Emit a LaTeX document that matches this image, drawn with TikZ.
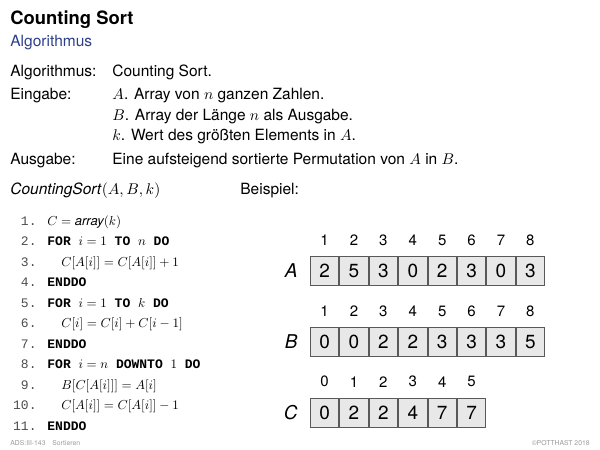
\documentclass[tikz,border=0pt]{standalone}
\usepackage[no-math]{fontspec}
\setmainfont{TeX Gyre Heros}
\setmonofont{Liberation Mono}
\usetikzlibrary{positioning}

% scale the math fonts freely
\DeclareFontShape{OML}{cmm}{m}{it}{<->cmmi10}{}
\DeclareFontShape{OT1}{cmr}{m}{n}{<->cmr10}{}
\DeclareFontShape{OMS}{cmsy}{m}{n}{<->cmsy10}{}

\definecolor{slideblue}{HTML}{2B3F8C}
\definecolor{cellgray}{HTML}{E8E8E8}

\begin{document}
\begin{tikzpicture}[
x=0.5pt, y=-0.5pt,
txt/.style={anchor=base west, inner sep=0, font=\fontsize{7.75}{9}\selectfont},
titletxt/.style={anchor=base west, inner sep=0, font=\fontsize{9.2}{11}\selectfont\bfseries},
linenum/.style={anchor=base east, inner sep=0, text=black!70, font=\fontsize{6.5}{8}\ttfamily},
code/.style={anchor=base west, inner sep=0, font=\fontsize{6.5}{8}\ttfamily},
cell/.style={rectangle, draw=black!65, fill=cellgray, line width=0.5pt, minimum width=14.2pt, minimum height=14.6pt, inner sep=0, font=\fontsize{9.5}{11}\selectfont},
idx/.style={inner sep=0, font=\fontsize{7.5}{9}\selectfont},
rowlabel/.style={inner sep=0, font=\fontsize{9.5}{11}\selectfont\itshape},
foot/.style={inner sep=0, text=black!40, font=\fontsize{3.4}{4}\selectfont}
]
\useasboundingbox (0,0) rectangle (600,450);

% heading
\node[titletxt] (title) at (10,24.5) {Counting Sort};
\node[txt, text=slideblue] (subtitle) at (10,46.5) {Algorithmus};

% problem statement
\node[txt] (alg_key) at (10,76.5) {Algorithmus:};
\node[txt] (alg_val) at (112,76.5) {Counting Sort.};
\node[txt] (in_key) at (10,99.5) {Eingabe:};
\node[txt] (in_a) at (112,99.5) {$A$. Array von $n$ ganzen Zahlen.};
\node[txt] (in_b) at (112,120.5) {$B$. Array der Länge $n$ als Ausgabe.};
\node[txt] (in_k) at (112,140.5) {$k$. Wert des größten Elements in $A$.};
\node[txt] (out_key) at (10,164.5) {Ausgabe:};
\node[txt] (out_val) at (112,164.5) {Eine aufsteigend sortierte Permutation von $A$ in $B$.};

% pseudo code
\node[txt] (algo_name) at (10,194.5) {\textit{CountingSort}$(A,B,k)$};
\node[txt] (example) at (240,194.5) {Beispiel:};

\node[linenum] (num1) at (37,225) {1.};
\node[linenum] (num2) at (37,245.5) {2.};
\node[linenum] (num3) at (37,266) {3.};
\node[linenum] (num4) at (37,286.5) {4.};
\node[linenum] (num5) at (37,307) {5.};
\node[linenum] (num6) at (37,327.5) {6.};
\node[linenum] (num7) at (37,348) {7.};
\node[linenum] (num8) at (37,368.5) {8.};
\node[linenum] (num9) at (37,389) {9.};
\node[linenum] (num10) at (37,409.5) {10.};
\node[linenum] (num11) at (37,430) {11.};

\node[code] (code1) at (47,225) {$C = \textrm{\itshape array}(k)$};
\node[code] (code2) at (47,245.5) {\textbf{FOR} $i = 1$ \textbf{TO} $n$ \textbf{DO}};
\node[code] (code3) at (61,266) {$C[A[i]] = C[A[i]] + 1$};
\node[code] (code4) at (47,286.5) {\textbf{ENDDO}};
\node[code] (code5) at (47,307) {\textbf{FOR} $i = 1$ \textbf{TO} $k$ \textbf{DO}};
\node[code] (code6) at (61,327.5) {$C[i] = C[i] + C[i-1]$};
\node[code] (code7) at (47,348) {\textbf{ENDDO}};
\node[code] (code8) at (47,368.5) {\textbf{FOR} $i = n$ \textbf{DOWNTO} $1$ \textbf{DO}};
\node[code] (code9) at (61,389) {$B[C[A[i]]] = A[i]$};
\node[code] (code10) at (61,409.5) {$C[A[i]] = C[A[i]] - 1$};
\node[code] (code11) at (47,430) {\textbf{ENDDO}};

% array A
\node[cell] (a1) at (324.6,271) {2};
\node[cell] (a2) [right=0pt of a1] {5};
\node[cell] (a3) [right=0pt of a2] {3};
\node[cell] (a4) [right=0pt of a3] {0};
\node[cell] (a5) [right=0pt of a4] {2};
\node[cell] (a6) [right=0pt of a5] {3};
\node[cell] (a7) [right=0pt of a6] {0};
\node[cell] (a8) [right=0pt of a7] {3};
\node[rowlabel] (label_a) [left=6pt of a1] {A};
\node[idx] (idx_a1) [above=5pt of a1] {1};
\node[idx] (idx_a2) [above=5pt of a2] {2};
\node[idx] (idx_a3) [above=5pt of a3] {3};
\node[idx] (idx_a4) [above=5pt of a4] {4};
\node[idx] (idx_a5) [above=5pt of a5] {5};
\node[idx] (idx_a6) [above=5pt of a6] {6};
\node[idx] (idx_a7) [above=5pt of a7] {7};
\node[idx] (idx_a8) [above=5pt of a8] {8};

% array B
\node[cell] (b1) [below=20.3pt of a1] {0};
\node[cell] (b2) [right=0pt of b1] {0};
\node[cell] (b3) [right=0pt of b2] {2};
\node[cell] (b4) [right=0pt of b3] {2};
\node[cell] (b5) [right=0pt of b4] {3};
\node[cell] (b6) [right=0pt of b5] {3};
\node[cell] (b7) [right=0pt of b6] {3};
\node[cell] (b8) [right=0pt of b7] {5};
\node[rowlabel] (label_b) [left=6pt of b1] {B};
\node[idx] (idx_b1) [above=5pt of b1] {1};
\node[idx] (idx_b2) [above=5pt of b2] {2};
\node[idx] (idx_b3) [above=5pt of b3] {3};
\node[idx] (idx_b4) [above=5pt of b4] {4};
\node[idx] (idx_b5) [above=5pt of b5] {5};
\node[idx] (idx_b6) [above=5pt of b6] {6};
\node[idx] (idx_b7) [above=5pt of b7] {7};
\node[idx] (idx_b8) [above=5pt of b8] {8};

% array C
\node[cell] (c0) [below=20.3pt of b1] {0};
\node[cell] (c1) [right=0pt of c0] {2};
\node[cell] (c2) [right=0pt of c1] {2};
\node[cell] (c3) [right=0pt of c2] {4};
\node[cell] (c4) [right=0pt of c3] {7};
\node[cell] (c5) [right=0pt of c4] {7};
\node[rowlabel] (label_c) [left=6pt of c0] {C};
\node[idx] (idx_c0) [above=5pt of c0] {0};
\node[idx] (idx_c1) [above=5pt of c1] {1};
\node[idx] (idx_c2) [above=5pt of c2] {2};
\node[idx] (idx_c3) [above=5pt of c3] {3};
\node[idx] (idx_c4) [above=5pt of c4] {4};
\node[idx] (idx_c5) [above=5pt of c5] {5};

% footer
\node[foot, anchor=base west] (foot_left) at (10,445) {ADS:III-143\quad Sortieren};
\node[foot, anchor=base east] (foot_right) at (590,445) {©POTTHAST 2018};

\end{tikzpicture}
\end{document}
